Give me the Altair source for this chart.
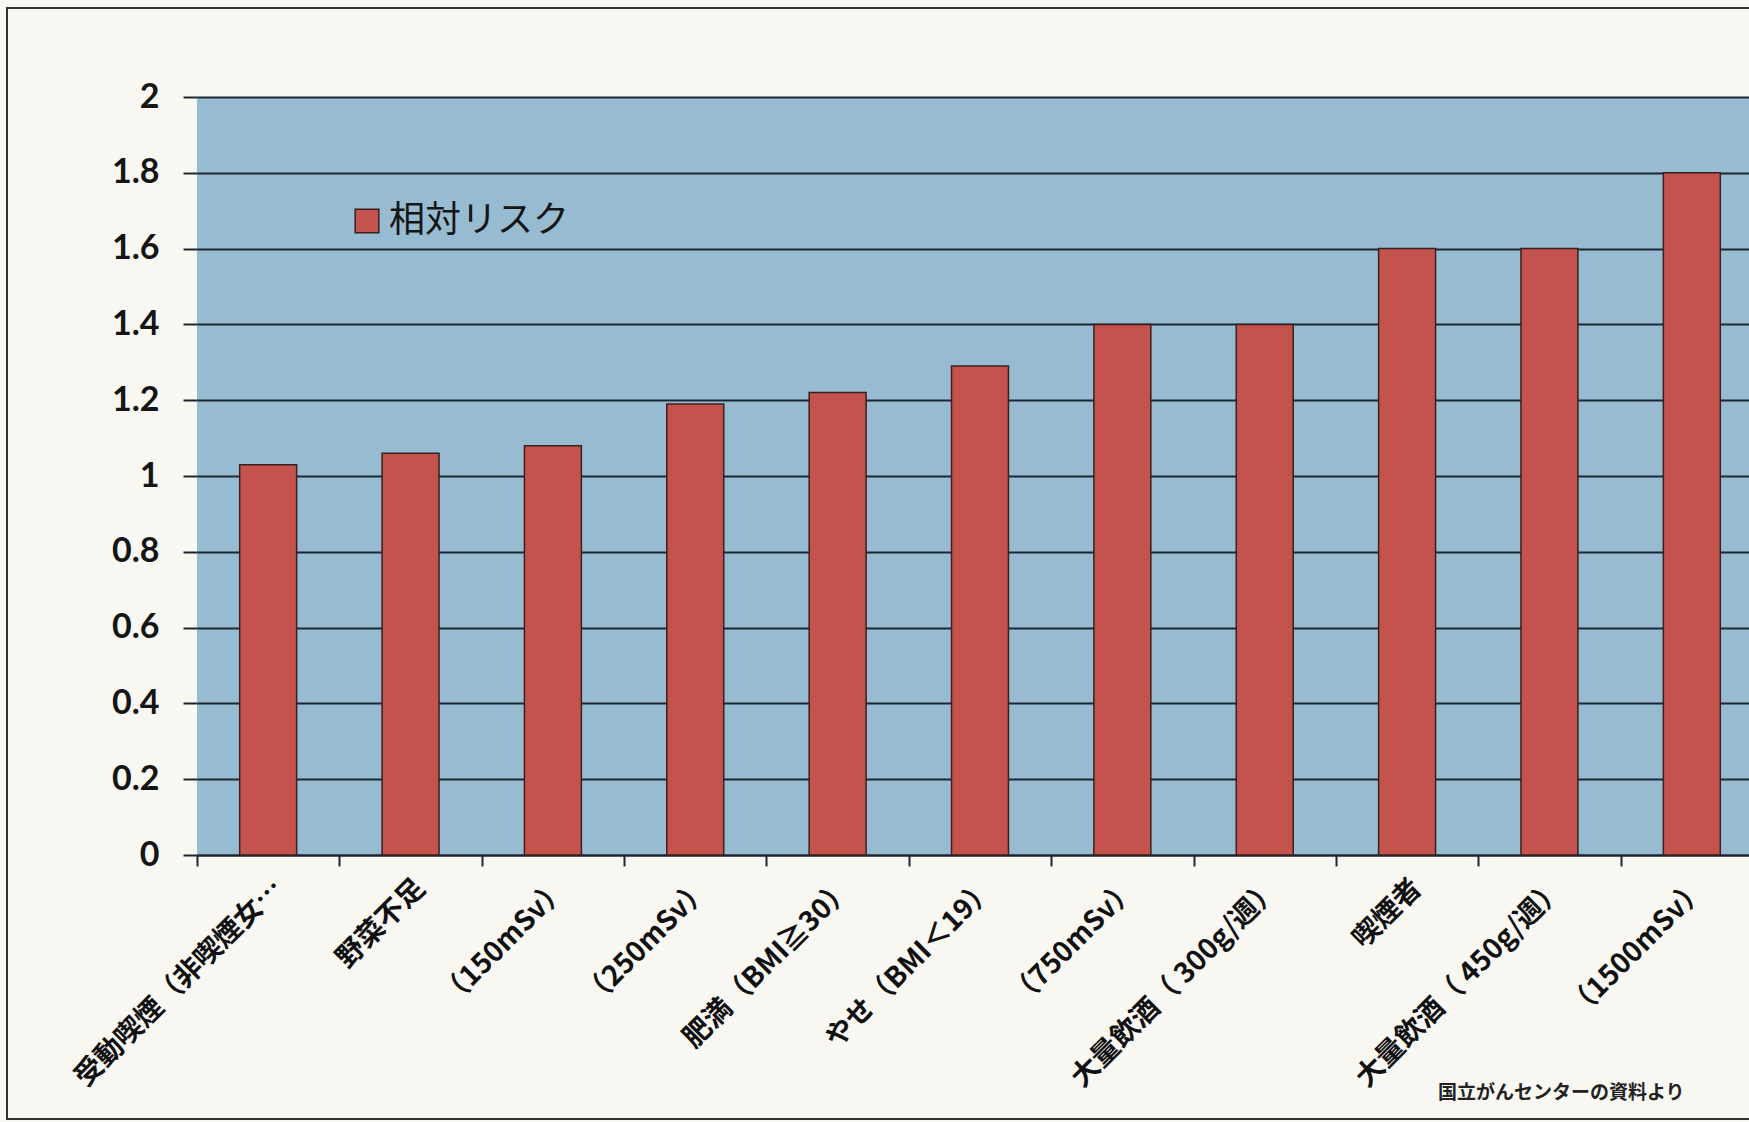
import altair as alt
import pandas as pd

categories = [
    "受動喫煙（非喫煙女…",
    "野菜不足",
    "（150mSv）",
    "（250mSv）",
    "肥満（BMI≧30）",
    "やせ（BMI＜19）",
    "（750mSv）",
    "大量飲酒（ 300g/週）",
    "喫煙者",
    "大量飲酒（ 450g/週）",
    "（1500mSv）",
]
values = [1.03, 1.06, 1.08, 1.19, 1.22, 1.29, 1.40, 1.40, 1.60, 1.60, 1.80]
series_name = "相対リスク"
y_ticks = [0, 0.2, 0.4, 0.6, 0.8, 1.0, 1.2, 1.4, 1.6, 1.8, 2.0]
footnote = "国立がんセンターの資料より"

df = pd.DataFrame({"cat": categories, "val": values, "series": [series_name] * len(categories)})

W = 1552
H = 758
BAND_RANGE = 1566
BLUE = "#97bcd2"
RED = "#c4534d"
DARK = "#1c2633"

bars = alt.Chart(df).mark_bar(
    stroke="#3a1f1f", strokeWidth=1.5, width=alt.RelativeBandSize(0.4)
).encode(
    x=alt.X(
        "cat:N",
        sort=categories,
        title=None,
        scale=alt.Scale(paddingInner=0, paddingOuter=0, range=[0, BAND_RANGE]),
        axis=alt.Axis(
            labelAngle=-45,
            labelAlign="right",
            labelBaseline="top",
            labelFont="Noto Sans CJK JP",
            labelFontWeight="bold",
            labelFontSize=28,
            labelColor="#111111",
            labelPadding=8,
            labelLimit=600,
            labelOverlap=False,
            tickBand="extent",
            tickSize=11,
            tickWidth=2,
            tickColor=DARK,
            domainColor=DARK,
            domainWidth=2,
            grid=False,
        ),
    ),
    y=alt.Y(
        "val:Q",
        title=None,
        scale=alt.Scale(domain=[0, 2], nice=False),
        axis=alt.Axis(
            values=y_ticks,
            format="~g",
            labelFont="Lato",
            labelFontWeight="bold",
            labelFontSize=34,
            labelColor="#151515",
            labelPadding=24,
            tickSize=14,
            tickWidth=2,
            tickColor=DARK,
            domain=False,
            grid=True,
            gridColor=DARK,
            gridWidth=2,
        ),
    ),
    color=alt.Color(
        "series:N",
        scale=alt.Scale(domain=[series_name], range=[RED]),
        legend=alt.Legend(
            title=None,
            orient="none",
            legendX=152,
            legendY=106,
            symbolType="square",
            symbolSize=560,
            symbolStrokeColor="#3a1f1f",
            symbolStrokeWidth=1.5,
            labelFont="Noto Sans CJK JP",
            labelFontSize=36,
            labelColor="#151515",
            labelOffset=4,
            labelLimit=800,
        ),
    ),
)

note_df = pd.DataFrame({"t": [footnote]})
note = alt.Chart(note_df).mark_text(
    align="left", baseline="middle", font="Noto Sans CJK JP", fontSize=19, fontWeight="bold", color="#222222"
).encode(text="t:N", x=alt.value(1438 - 197), y=alt.value(1093 - 97))

frame = alt.Chart(pd.DataFrame({"a": [0]})).mark_rect(
    filled=False, stroke="#333333", strokeWidth=2
).encode(
    x=alt.value(7 - 197), x2=alt.value(W + 20), y=alt.value(8 - 97), y2=alt.value(1119 - 97)
)

chart = alt.layer(frame, bars, note).properties(
    width=W,
    height=H,
    background="#f8f7f2",
    padding={"left": 197, "top": 97, "right": 0, "bottom": 1122 - 97 - H},
    autosize=alt.AutoSizeParams(type="none"),
).configure_view(fill=BLUE, stroke=None)

chart.save("out.html", embed_options={"renderer": "svg", "actions": False})
